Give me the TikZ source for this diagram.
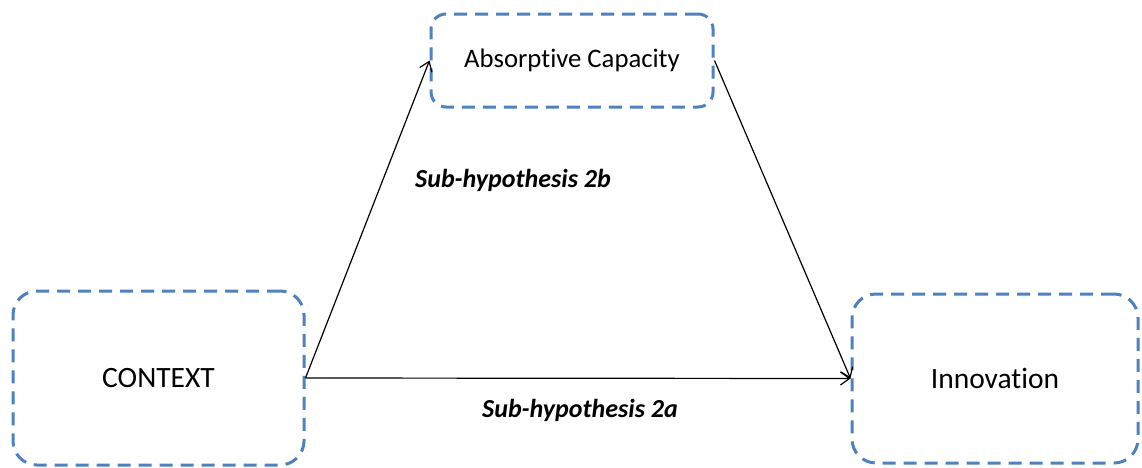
\documentclass[tikz,border=0pt]{standalone}
\usepackage{fontspec}
\setmainfont[Ligatures=NoCommon]{Carlito}
\usetikzlibrary{arrows.meta}
\definecolor{boxblue}{RGB}{79,129,189}
\begin{document}
\begin{tikzpicture}[x=1pt,y=-1pt,
  dbox/.style={draw=boxblue,line width=3pt,dash pattern=on 13pt off 8pt,rounded corners=#1,inner sep=0pt},
  conn/.style={draw=black,line width=1.2pt,-{Straight Barb[length=9pt,width=13pt,line width=1.2pt]}},
  lab/.style={font=\fontsize{26}{30}\selectfont\bfseries\itshape}]
\useasboundingbox (0,0) rectangle (1142,467);
\node[dbox=24pt,minimum width=291pt,minimum height=174pt,font=\fontsize{29.5}{34}\selectfont] (ctx) at (158.5,378) {CONTEXT};
\node[dbox=24pt,minimum width=286pt,minimum height=169pt,font=\fontsize{29.5}{34}\selectfont] (inn) at (995,378.5) {Innovation};
\node[dbox=15pt,minimum width=282pt,minimum height=93pt,font=\fontsize{26.7}{31}\selectfont] (abs) at (572,60.5) {Absorptive Capacity};
\draw[conn] (ctx.east) -- (inn.west);
\draw[conn] (ctx.east) -- (abs.west);
\draw[conn] (abs.east) -- (inn.west);
\node[lab] (l2b) at (513,180) {Sub-hypothesis 2b};
\node[lab] (l2a) at (580,410) {Sub-hypothesis 2a};
\end{tikzpicture}
\end{document}
